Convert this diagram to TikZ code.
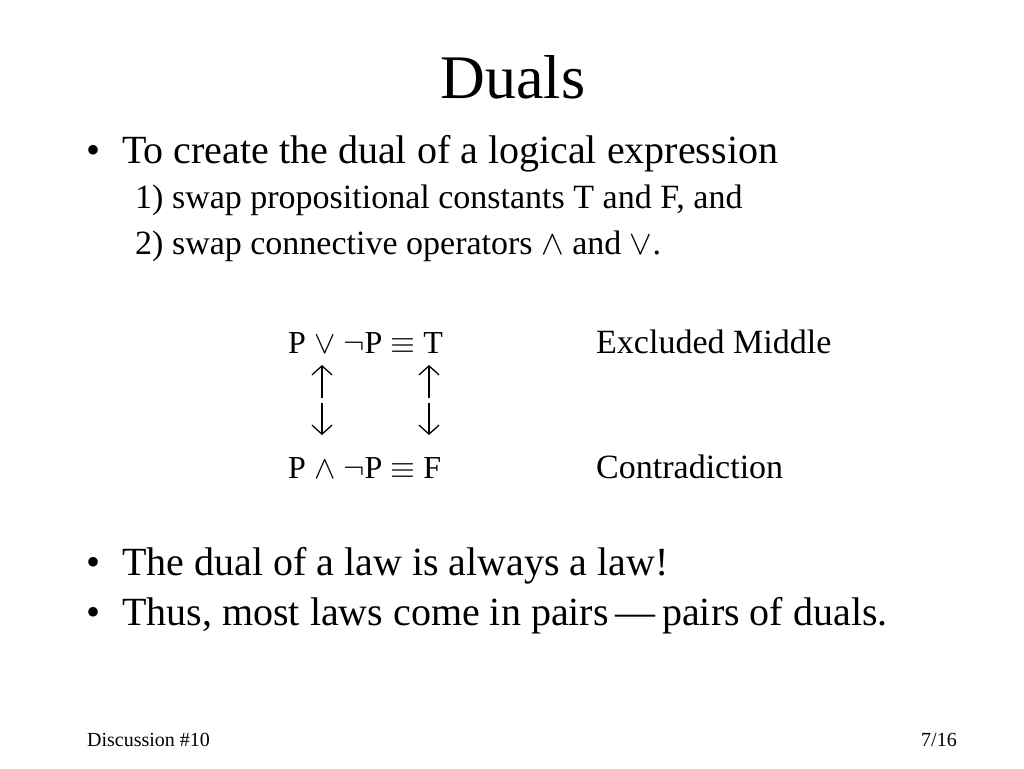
\documentclass[tikz,border=0pt]{standalone}
\usepackage{fix-cm}
\usepackage{fontspec}
\setmainfont{Liberation Serif}
\usetikzlibrary{positioning,arrows.meta}

\tikzset{
  slidetitle/.style={anchor=base, inner sep=0pt, font=\fontsize{62}{70}\selectfont},
  item/.style={anchor=base west, inner sep=0pt, font=\fontsize{40}{48}\selectfont},
  subitem/.style={anchor=base west, inner sep=0pt, font=\fontsize{34}{40}\selectfont},
  formula/.style={anchor=base west, inner sep=0pt, font=\fontsize{32}{38}\selectfont},
  foot/.style={anchor=base west, inner sep=0pt, font=\fontsize{20}{24}\selectfont},
  dualarrow/.style={-{Straight Barb[length=9pt,width=20pt]}, line width=1.3pt},
}

\begin{document}
\begin{tikzpicture}[x=1pt, y=-1pt]
            \fill[white] (0,0) rectangle (1024,768);
            \useasboundingbox (0,0) rectangle (1024,768);

            \draw (513,98) node [slidetitle] (title) {Duals};

            \draw (86,163) node [item] (b1) {\textbullet};
            \draw (122,163) node [item] (rule) {To create the dual of a logical expression};
            \draw (135,208) node [subitem] (swap1) {1) swap propositional constants T and F, and};
            \draw (135,254) node [subitem] (swap2) {2) swap connective operators $\wedge$ and $\vee$.};

            \draw (288,353) node [formula] (law1) {P $\vee$ $\neg$P $\equiv$ T};
            \draw (596,353) node [subitem] (name1) {Excluded Middle};
            \draw (288,478) node [formula] (law2) {P $\wedge$ $\neg$P $\equiv$ F};
            \draw (596,478) node [subitem] (name2) {Contradiction};

            \coordinate (lu top) at (322,365);
            \coordinate (lu bot) at (322,398);
            \coordinate (ld top) at (322,403);
            \coordinate (ld bot) at (322,435);
            \coordinate (ru top) at (429,365);
            \coordinate (ru bot) at (429,398);
            \coordinate (rd top) at (429,403);
            \coordinate (rd bot) at (429,435);

            \draw[dualarrow] (lu bot) -- (lu top);
            \draw[dualarrow] (ld top) -- (ld bot);
            \draw[dualarrow] (ru bot) -- (ru top);
            \draw[dualarrow] (rd top) -- (rd bot);

            \draw (86,575) node [item] (b2) {\textbullet};
            \draw (122,575) node [item] (always) {The dual of a law is always a law!};
            \draw (86,625) node [item] (b3) {\textbullet};
            \draw (122,625) node [item] (pairs) {Thus, most laws come in pairs\,---\,pairs of duals.};

            \draw (87,746) node [foot] (disc) {Discussion \#10};
            \draw (921,746) node [foot] (page) {7/16};
        \end{tikzpicture}
\end{document}
